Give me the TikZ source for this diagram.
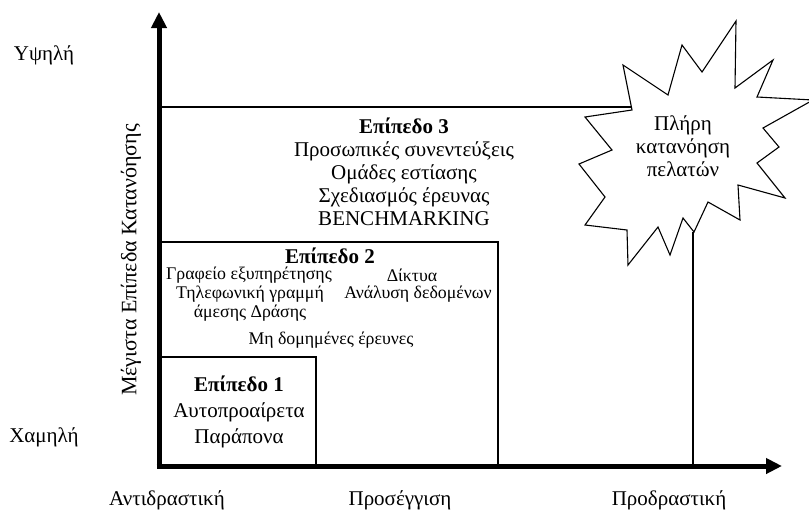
\documentclass[tikz,border=0pt]{standalone}
\usepackage{fontspec}
\setmainfont{Liberation Serif}
\usetikzlibrary{arrows.meta}
\begin{document}
\begin{tikzpicture}[x=1pt,y=-1pt,
  axisline/.style={line width=5pt, -{Triangle[length=16pt,width=15pt]}},
  boxline/.style={line width=1.1pt},
  big/.style={font=\fontsize{21}{23}\selectfont, align=center, inner sep=0pt},
  mid/.style={font=\fontsize{17.8}{19}\selectfont, align=center, inner sep=0pt},
  lab/.style={font=\fontsize{21}{24}\selectfont, inner sep=0pt},
]
\useasboundingbox (0,0) rectangle (809,515);
% axes
\coordinate (O) at (159,466);
\coordinate (ybot) at (159,468.5);
\coordinate (ytop) at (159,12);
\coordinate (xleft) at (156.5,466);
\coordinate (xright) at (782,466);
\draw[axisline] (ybot) -- (ytop);
\draw[axisline] (xleft) -- (xright);
% level boxes
\coordinate (l1a) at (159,357); \coordinate (l1b) at (316,357); \coordinate (l1c) at (316,466);
\coordinate (l2a) at (159,242); \coordinate (l2b) at (498,242); \coordinate (l2c) at (498,466);
\coordinate (l3a) at (159,107); \coordinate (l3b) at (632,107);
\coordinate (l3c) at (693,232); \coordinate (l3d) at (693,466);
\draw[boxline] (l1a) -- (l1b) -- (l1c);
\draw[boxline] (l2a) -- (l2b) -- (l2c);
\draw[boxline] (l3a) -- (l3b);
\draw[boxline] (l3c) -- (l3d);
% star
\draw[boxline, fill=white, line join=miter]
  (585,117) -- (632,110) -- (623,65) -- (668,95) -- (682,45) -- (702,72)
  -- (736,21) -- (735,88) -- (773,60) -- (757,97) -- (813,100) -- (763,128)
  -- (779,147) -- (757,163) -- (785,198) -- (738,185) -- (740,220) -- (708,202)
  -- (694,232) -- (683,218) -- (670,255) -- (658,227) -- (628,265) -- (627,230)
  -- (585,225) -- (605,197) -- (579,164) -- (612,150) -- cycle;
\node[big] (star) at (683,146) {Πλήρη\\κατανόηση\\πελατών};
% level texts
\node[big] (t3) at (404,172) {\textbf{Επίπεδο 3}\\Προσωπικές συνεντεύξεις\\Ομάδες εστίασης\\Σχεδιασμός έρευνας\\BENCHMARKING};
\node[big] (h2) at (330,256) {\textbf{Επίπεδο 2}};
\node[mid] (a2) at (249,275) {Γραφείο εξυπηρέτησης};
\node[mid] (b2) at (250,303.5) {Τηλεφωνική γραμμή\\άμεσης Δράσης};
\node[mid] (c2) at (412,275) {Δίκτυα};
\node[mid] (d2) at (418,294) {Ανάλυση δεδομένων};
\node[mid] (e2) at (331,340) {Μη δομημένες έρευνες};
\node[big, font=\fontsize{21}{26}\selectfont] (t1) at (239,412) {\textbf{Επίπεδο 1}\\Αυτοπροαίρετα\\Παράπονα};
% axis labels
\node[lab] (hi) at (44,55) {Υψηλή};
\node[lab] (lo) at (44,437) {Χαμηλή};
\node[lab, font=\fontsize{22}{24}\selectfont, rotate=90] (yl) at (131,260) {Μέγιστα Επίπεδα Κατανόησης};
\node[lab] (xa) at (167,500) {Αντιδραστική};
\node[lab] (xb) at (400,500) {Προσέγγιση};
\node[lab] (xc) at (669,500) {Προδραστική};
\end{tikzpicture}
\end{document}
